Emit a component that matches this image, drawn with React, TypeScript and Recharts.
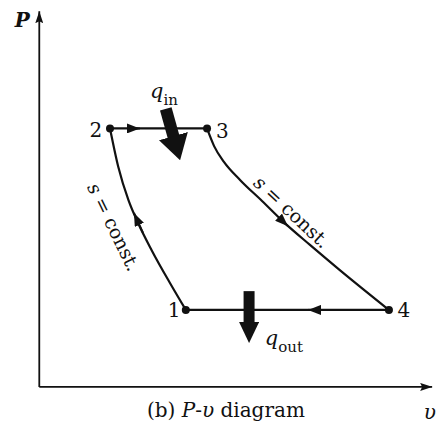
import { ComposedChart, Line, Scatter, XAxis, YAxis } from 'recharts';

const FONT = '"DejaVu Serif", serif';
const INK = '#111';

// state points of the cycle (v and P in arbitrary units)
const statePoints = [
  { id: '1', v: 3.73, P: 2.05 },
  { id: '2', v: 1.8, P: 6.88 },
  { id: '3', v: 4.27, P: 6.88 },
  { id: '4', v: 8.9, P: 2.05 },
];

// isentropic compression 1-2 (sorted by v)
const compression = [
  { v: 1.8, P: 6.88 },
  { v: 2.01, P: 5.86 },
  { v: 2.27, P: 4.97 },
  { v: 2.52, P: 4.35 },
  { v: 2.86, P: 3.64 },
  { v: 3.33, P: 2.76 },
  { v: 3.73, P: 2.05 },
];

// isentropic expansion 3-4
const expansion = [
  { v: 4.27, P: 6.88 },
  { v: 4.45, P: 6.41 },
  { v: 4.7, P: 5.99 },
  { v: 5.11, P: 5.51 },
  { v: 5.67, P: 4.95 },
  { v: 6.25, P: 4.36 },
  { v: 6.89, P: 3.78 },
  { v: 7.65, P: 3.11 },
  { v: 8.9, P: 2.05 },
];

// heat addition 2-3 and rejection 4-1 at constant pressure
const heatAddition = [statePoints[1], statePoints[2]];
const heatRejection = [statePoints[3], statePoints[0]];

// axes, from the origin to the arrow tips
const pAxis = [{ v: 0, P: 0 }, { v: 0, P: 10 }];
const vAxis = [{ v: 0, P: 0 }, { v: 10, P: 0 }];

// direction arrows on the cycle (tail -> tip)
const flowArrows = [
  [{ v: 2.3, P: 6.88 }, { v: 2.56, P: 6.88 }],
  [{ v: 6.13, P: 4.48 }, { v: 6.33, P: 4.28 }],
  [{ v: 7.1, P: 2.05 }, { v: 6.84, P: 2.05 }],
  [{ v: 2.64, P: 4.1 }, { v: 2.41, P: 4.63 }],
];

// heat arrows: stem top -> base of the head
const qInArrow = [{ v: 3.22, P: 7.4 }, { v: 3.42, P: 6.65 }];
const qOutArrow = [{ v: 5.34, P: 2.55 }, { v: 5.34, P: 1.7 }];

// text anchors
const pointLabels = [
  { text: '1', v: 3.43, P: 2.05 },
  { text: '2', v: 1.44, P: 6.85 },
  { text: '3', v: 4.66, P: 6.82 },
  { text: '4', v: 9.28, P: 2.05 },
];
const isentropeLabels = [
  { id: 'left', v: 1.9, P: 4.26 },
  { id: 'right', v: 6.43, P: 4.66 },
];
const heatLabels = [
  { sub: 'in', v: 2.82, P: 7.69 },
  { sub: 'out', v: 5.74, P: 1.12 },
];
const axisLabels = [
  { id: 'P', v: -0.43, P: 9.77 },
  { id: 'v', v: 9.94, P: -0.69 },
];
const caption = [{ v: 4.75, P: -0.61 }];

const LABEL_ANGLE: Record<string, number> = { left: 64, right: 43 };

const Dot = (props: any) => <circle cx={props.cx} cy={props.cy} r={4} fill={INK} />;

const PointLabel = (props: any) => (
  <text x={props.cx} y={props.cy} dy="0.36em" textAnchor="middle" fontFamily={FONT} fontSize={20} fill={INK}>
    {props.payload.text}
  </text>
);

const IsentropeLabel = (props: any) => {
  const { cx, cy, payload } = props;
  return (
    <text
      x={cx}
      y={cy}
      dy="0.36em"
      textAnchor="middle"
      fontFamily={FONT}
      fontSize={19}
      fill={INK}
      transform={`rotate(${LABEL_ANGLE[payload.id]} ${cx} ${cy})`}
    >
      <tspan fontStyle="italic">s</tspan> = const.
    </text>
  );
};

const HeatLabel = (props: any) => (
  <text x={props.cx} y={props.cy} fontFamily={FONT} fill={INK}>
    <tspan fontStyle="italic" fontSize={21}>q</tspan>
    <tspan fontSize={15} dy={7}>{props.payload.sub}</tspan>
  </text>
);

const AxisLabel = (props: any) =>
  props.payload.id === 'P' ? (
    <text x={props.cx} y={props.cy} dy="0.36em" textAnchor="middle" fontFamily={FONT} fontSize={20} fontStyle="italic" fontWeight="bold" fill={INK}>
      P
    </text>
  ) : (
    <text x={props.cx} y={props.cy} dy="0.3em" textAnchor="middle" fontFamily={FONT} fontSize={20} fontStyle="italic" fill={INK}>
      υ
    </text>
  );

const Caption = (props: any) => (
  <text x={props.cx} y={props.cy} dy="0.36em" textAnchor="middle" fontFamily={FONT} fontSize={20} fill={INK}>
    (b) <tspan fontStyle="italic">P</tspan>-<tspan fontStyle="italic">υ</tspan> diagram
  </text>
);

const lineProps = {
  dataKey: 'P',
  stroke: INK,
  dot: false,
  activeDot: false,
  isAnimationActive: false,
};

export default function App() {
  return (
    <div style={{ position: 'absolute', left: 0, top: 0, width: 440, height: 432, background: '#fff' }}>
      <ComposedChart width={440} height={432} margin={{ top: 0, right: 0, bottom: 0, left: 0 }}>
        <defs>
          <marker id="axisHead" markerUnits="userSpaceOnUse" viewBox="0 0 12 8" markerWidth={12} markerHeight={8} refX={12} refY={4} orient="auto">
            <path d="M0,0 L12,4 L0,8 L2,4 z" fill={INK} />
          </marker>
          <marker id="flowHead" markerUnits="userSpaceOnUse" viewBox="0 0 13 10" markerWidth={13} markerHeight={10} refX={13} refY={5} orient="auto">
            <path d="M0,0 L13,5 L0,10 z" fill={INK} />
          </marker>
          <marker id="qInHead" markerUnits="userSpaceOnUse" viewBox="0 0 25 30" markerWidth={25} markerHeight={30} refX={1} refY={15} orient="auto">
            <path d="M0,0 L25,15 L0,30 z" fill={INK} />
          </marker>
          <marker id="qOutHead" markerUnits="userSpaceOnUse" viewBox="0 0 21 20" markerWidth={21} markerHeight={20} refX={1} refY={10} orient="auto">
            <path d="M0,0 L21,10 L0,20 z" fill={INK} />
          </marker>
        </defs>
        <XAxis type="number" dataKey="v" domain={[-1, 10.2]} hide />
        <YAxis type="number" dataKey="P" domain={[-1.2, 10.3]} hide />

        <Line {...lineProps} data={pAxis} type="linear" strokeWidth={1.8} markerEnd="url(#axisHead)" />
        <Line {...lineProps} data={vAxis} type="linear" strokeWidth={1.8} markerEnd="url(#axisHead)" />

        <Line {...lineProps} data={compression} type="monotone" strokeWidth={2.2} />
        <Line {...lineProps} data={expansion} type="monotone" strokeWidth={2.2} />
        <Line {...lineProps} data={heatAddition} type="linear" strokeWidth={2.2} />
        <Line {...lineProps} data={heatRejection} type="linear" strokeWidth={2.2} />

        {flowArrows.map((a, i) => (
          <Line key={`flow-${i}`} {...lineProps} data={a} type="linear" strokeWidth={2} markerEnd="url(#flowHead)" />
        ))}

        <Line {...lineProps} data={qInArrow} type="linear" strokeWidth={12} markerEnd="url(#qInHead)" />
        <Line {...lineProps} data={qOutArrow} type="linear" strokeWidth={11} markerEnd="url(#qOutHead)" />

        <Scatter data={statePoints} dataKey="P" shape={Dot} isAnimationActive={false} />
        <Scatter data={pointLabels} dataKey="P" shape={PointLabel} isAnimationActive={false} />
        <Scatter data={isentropeLabels} dataKey="P" shape={IsentropeLabel} isAnimationActive={false} />
        <Scatter data={heatLabels} dataKey="P" shape={HeatLabel} isAnimationActive={false} />
        <Scatter data={axisLabels} dataKey="P" shape={AxisLabel} isAnimationActive={false} />
        <Scatter data={caption} dataKey="P" shape={Caption} isAnimationActive={false} />
      </ComposedChart>
    </div>
  );
}
